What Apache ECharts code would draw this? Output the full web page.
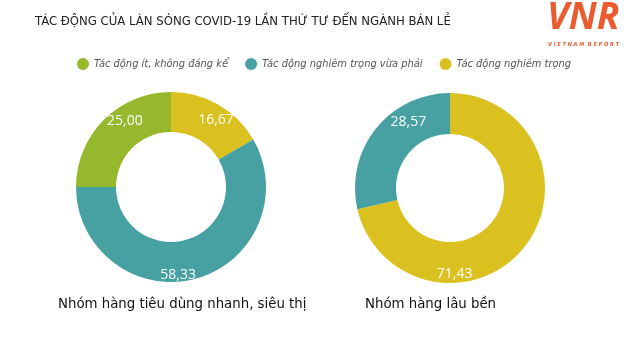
<!DOCTYPE html>
<html>
<head>
<meta charset="utf-8">
<script src="https://cdn.jsdelivr.net/npm/echarts@6/dist/echarts.min.js"></script>
<style>
  html, body { margin: 0; padding: 0; background: #fff; }
  #chart { width: 624px; height: 337px; }
</style>
</head>
<body>
<div id="chart"></div>
<script>
// Impact levels (legend entries)
const categories = ['Tác động ít, không đáng kể', 'Tác động nghiêm trọng vừa phải', 'Tác động nghiêm trọng'];
// Share of respondents (%) per product group
const fmcgValues = [25.00, 58.33, 16.67];
const durableValues = [0, 28.57, 71.43];
const groupNames = ['Nhóm hàng tiêu dùng nhanh, siêu thị', 'Nhóm hàng lâu bền'];
const titleText = 'TÁC ĐỘNG CỦA LÀN SÓNG COVID-19 LẦN THỨ TƯ ĐẾN NGÀNH BÁN LẺ';

const colors = { [categories[0]]: '#95b82d', [categories[1]]: '#47a0a2', [categories[2]]: '#dbc11f' };
const FONT = '"DejaVu Sans Condensed", "Open Sans", sans-serif';
const FONT_WIDE = '"Open Sans", "Noto Sans", sans-serif';

// Slices are drawn clockwise from 12 o'clock: severe, moderate, low
const order = [2, 1, 0];
function sliceData(values, offsets) {
  return order.filter(i => values[i] > 0).map(i => ({
    name: categories[i],
    value: values[i],
    itemStyle: { color: colors[categories[i]] },
    label: { offset: offsets[i] || [0, 0] }
  }));
}

const labelStyle = {
  show: true,
  position: 'inside',
  color: '#fff',
  fontFamily: FONT_WIDE,
  fontSize: 14,
  formatter: p => p.value.toFixed(2).replace('.', ',')
};

const chart = echarts.init(document.getElementById('chart'));
chart.setOption({
  backgroundColor: '#fff',
  animation: false,
  title: [
    { text: titleText, left: 30, top: 10, textStyle: { fontFamily: FONT, fontSize: 13, fontWeight: 'normal', color: '#222' } },
    { text: groupNames[0], left: 53, top: 292, textStyle: { fontFamily: FONT, fontSize: 14.8, fontWeight: 'normal', color: '#111' } },
    { text: groupNames[1], left: 360, top: 292, textStyle: { fontFamily: FONT, fontSize: 14.8, fontWeight: 'normal', color: '#111' } }
  ],
  legend: {
    data: categories,
    left: 72, top: 53, width: 540,
    icon: 'circle',
    itemWidth: 12, itemHeight: 12, itemGap: 17,
    textStyle: { fontFamily: FONT, fontSize: 11, fontStyle: 'italic', color: '#555' }
  },
  graphic: [
    { type: 'text', left: 547, top: 0, style: { text: 'VNR', fontFamily: FONT_WIDE, fontSize: 37, fontStyle: 'italic', fontWeight: 'bold', fill: '#ec5a2f' } },
    { type: 'text', left: 548, top: 42, style: { text: 'V I E T N A M  R E P O R T', fontFamily: FONT, fontSize: 5.6, fontStyle: 'italic', fontWeight: 'bold', fill: '#ec5a2f' } }
  ],
  series: [
    {
      type: 'pie', center: [171, 187], radius: [55, 95], startAngle: 90, clockwise: true,
      label: labelStyle, labelLine: { show: false }, emphasis: { disabled: true },
      data: sliceData(fmcgValues, { 0: [9, -11], 1: [-13, 13], 2: [6, 1] })
    },
    {
      type: 'pie', center: [450, 188], radius: [54, 95], startAngle: 90, clockwise: true,
      label: labelStyle, labelLine: { show: false }, emphasis: { disabled: true },
      data: sliceData(durableValues, { 1: [19, -18], 2: [-56, 38] })
    }
  ]
});
</script>
</body>
</html>
